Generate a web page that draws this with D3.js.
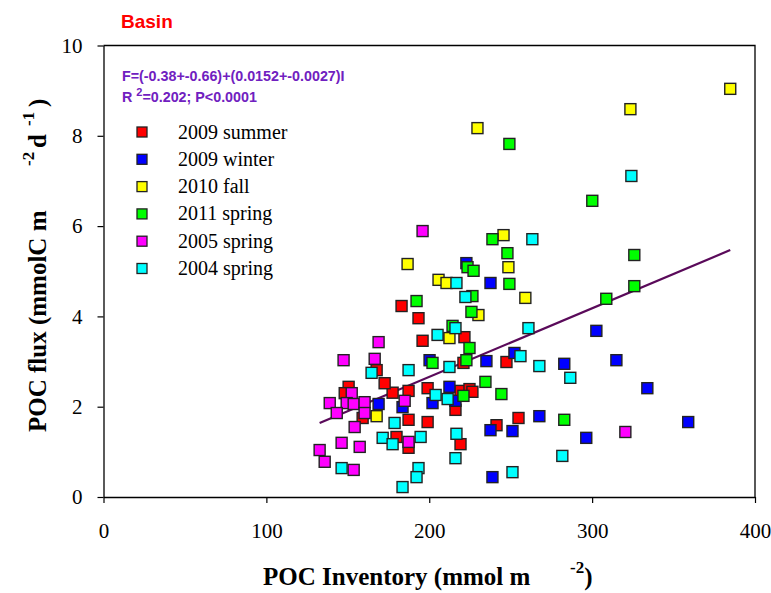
<!DOCTYPE html>
<html>
<head>
<meta charset="utf-8">
<script src="https://cdn.jsdelivr.net/npm/d3@7"></script>
<style>
  body { margin: 0; background: #fff; }
  svg { display: block; }
</style>
</head>
<body>
<svg id="chart" width="771" height="593"></svg>
<script>
// POC inventory (x, mmol m-2) and POC flux (y, mmolC m-2 d-1) per cruise
const summer2009 = [
  [183.0,4.23],[193.4,3.96],[195.9,3.46],[177.5,2.31],[172.6,2.52],[167.7,2.81],
  [150.5,2.44],[148.1,2.30],[159.1,1.75],[179.9,1.33],[187.3,1.71],[199.0,2.41],
  [187.3,2.35],[199.0,1.66],[187.3,1.09],[219.2,2.35],[224.7,2.39],[226.5,2.33],
  [216.1,1.93],[219.2,1.17],[221.0,2.97],[221.6,3.54],[247.4,2.99],[241.3,1.59],
  [254.8,1.75]
];
const winter2009 = [
  [222.8,5.18],[237.6,4.74],[200.2,3.03],[235.1,3.01],[252.3,3.19],[212.4,2.44],
  [216.1,2.13],[202.0,2.08],[183.6,1.99],[237.6,1.48],[251.1,1.46],[238.8,0.44],
  [168.9,2.06],[302.6,3.68],[314.9,3.03],[333.9,2.41],[282.9,2.95],[267.6,1.79],
  [296.4,1.31],[359.0,1.66]
];
const fall2010 = [
  [384.8,9.04],[323.5,8.59],[229.6,8.17],[245.6,5.80],[248.6,5.09],[186.7,5.16],
  [205.7,4.81],[210.6,4.74],[230.2,4.03],[212.4,3.52],[167.7,1.79],[259.0,4.41]
];
const spring2011 = [
  [249.2,7.82],[300.1,6.56],[238.8,5.71],[248.0,5.40],[223.5,5.09],[227.2,5.01],
  [249.2,4.72],[226.5,4.45],[192.2,4.34],[225.9,4.10],[214.3,3.79],[224.7,3.30],
  [222.8,3.03],[202.0,2.97],[234.5,2.55],[221.0,2.24],[244.3,2.28],[308.7,4.39],
  [325.9,4.67],[325.9,5.36],[282.9,1.71]
];
const spring2005 = [
  [195.9,5.89],[168.9,3.43],[147.4,3.03],[166.5,3.06],[152.4,2.30],[138.9,2.08],
  [149.3,2.08],[153.6,2.06],[160.3,2.10],[143.2,1.86],[160.3,1.86],[154.2,1.55],
  [146.2,1.20],[157.3,1.11],[132.7,1.04],[135.8,0.78],[153.6,0.60],[184.9,2.13],
  [187.3,1.22],[320.4,1.44]
];
const spring2004 = [
  [324.1,7.11],[263.3,5.71],[216.7,4.74],[222.2,4.43],[216.1,3.74],[205.1,3.59],
  [260.9,3.74],[256.0,3.12],[212.4,2.88],[187.3,2.81],[164.6,2.75],[267.6,2.90],
  [286.6,2.64],[203.9,2.26],[211.3,2.17],[178.7,1.64],[171.4,1.31],[177.5,1.17],
  [194.7,1.33],[216.7,1.40],[216.1,0.86],[193.4,0.64],[192.2,0.44],[183.6,0.22],
  [146.2,0.64],[251.1,0.55],[281.7,0.91]
];

const seriesNames = ["2009 summer","2009 winter","2010 fall","2011 spring","2005 spring","2004 spring"];
const seriesColors = ["#ff0000","#0000ff","#ffff00","#00ff00","#ff00ff","#00ffff"];
const seriesData = [summer2009, winter2009, fall2010, spring2011, spring2005, spring2004];

const xTicks = [0, 100, 200, 300, 400];
const yTicks = [0, 2, 4, 6, 8, 10];

// Linear fit F = a + b*I
const fitIntercept = -0.38;
const fitSlope = 0.0152;

const serif = "'Liberation Serif','Times New Roman',serif";
const sans = "'Liberation Sans',Arial,sans-serif";

const svg = d3.select("#chart");
const x = d3.scaleLinear().domain([0, 400]).range([103.5, 755]);
const y = d3.scaleLinear().domain([0, 10]).range([497, 45.5]);

// frame (top and right edges)
svg.append("path")
  .attr("d", `M${x(0)},${y(10)}H${x(400)}V${y(0)}`)
  .attr("fill", "none").attr("stroke", "#000").attr("stroke-width", 1.3);

const xAxis = svg.append("g")
  .attr("transform", `translate(0,${y(0)})`)
  .call(d3.axisBottom(x).tickValues(xTicks).tickSize(6).tickPadding(20).tickSizeOuter(0));
const yAxis = svg.append("g")
  .attr("transform", `translate(${x(0)},0)`)
  .call(d3.axisLeft(y).tickValues(yTicks).tickSize(6).tickPadding(15).tickSizeOuter(0));

[xAxis, yAxis].forEach(g => {
  g.select(".domain").attr("stroke", "#000").attr("stroke-width", 1.3);
  g.selectAll(".tick line").attr("stroke", "#000").attr("stroke-width", 1.2);
  g.selectAll(".tick text")
    .attr("fill", "#000")
    .style("font-family", serif)
    .style("font-size", "21px");
});

// regression line over the range of the data
const allX = seriesData.flat().map(d => d[0]);
const [xMin, xMax] = d3.extent(allX);
svg.append("line")
  .attr("x1", x(xMin)).attr("y1", y(fitIntercept + fitSlope * xMin))
  .attr("x2", x(xMax)).attr("y2", y(fitIntercept + fitSlope * xMax))
  .attr("stroke", "#5a0a5a").attr("stroke-width", 2.2);

// data markers
const ms = 11;
seriesData.forEach((data, i) => {
  svg.append("g").selectAll("rect")
    .data(data).join("rect")
    .attr("x", d => x(d[0]) - ms / 2)
    .attr("y", d => y(d[1]) - ms / 2)
    .attr("width", ms).attr("height", ms)
    .attr("fill", seriesColors[i])
    .attr("stroke", "#222").attr("stroke-width", 1.4);
});

// legend
const legend = svg.append("g");
seriesNames.forEach((name, i) => {
  const cy = 132 + i * 27.3;
  legend.append("rect")
    .attr("x", 142 - 5).attr("y", cy - 5)
    .attr("width", 10).attr("height", 10)
    .attr("fill", seriesColors[i]).attr("stroke", "#222").attr("stroke-width", 1.3);
  legend.append("text")
    .attr("x", 178).attr("y", cy + 6.5)
    .style("font-family", serif)
    .style("font-size", "20px")
    .text(name);
});

// title
svg.append("text")
  .attr("x", 121).attr("y", 28)
  .attr("fill", "#ff0000")
  .style("font-family", sans)
  .style("font-weight", "bold").style("font-size", "19px")
  .text("Basin");

// fit annotation
const noteColor = "#7020c0";
svg.append("text")
  .attr("x", 122).attr("y", 81)
  .attr("fill", noteColor)
  .style("font-family", sans)
  .style("font-weight", "bold").style("font-size", "14.3px")
  .text("F=(-0.38+-0.66)+(0.0152+-0.0027)I");
const r2 = svg.append("text")
  .attr("x", 122).attr("y", 102)
  .attr("fill", noteColor)
  .style("font-family", sans)
  .style("font-weight", "bold").style("font-size", "14.3px");
r2.append("tspan").text("R ");
r2.append("tspan").attr("dy", -6).style("font-size", "11px").text("2");
r2.append("tspan").attr("dy", 6).text("=0.202; P<0.0001");

// axis titles
const xt = svg.append("text")
  .attr("x", 263).attr("y", 585)
  .style("font-family", serif).style("font-weight", "bold").style("font-size", "25px");
xt.append("tspan").text("POC Inventory (mmol m");
xt.append("tspan").attr("x", 570).attr("dy", -12).style("font-size", "17px").text("-2");
xt.append("tspan").attr("dy", 12).text(")");

const yt = svg.append("text")
  .attr("transform", "translate(46,432) rotate(-90)")
  .style("font-family", serif).style("font-weight", "bold").style("font-size", "25px");
yt.append("tspan").attr("x", 0).text("POC flux (mmolC m");
yt.append("tspan").attr("x", 266).attr("dy", -12).style("font-size", "17px").text("-2");
yt.append("tspan").attr("x", 284).attr("dy", 12).text("d");
yt.append("tspan").attr("x", 306).attr("dy", -12).style("font-size", "17px").text("-1");
yt.append("tspan").attr("x", 325).attr("dy", 12).text(")");
</script>
</body>
</html>
